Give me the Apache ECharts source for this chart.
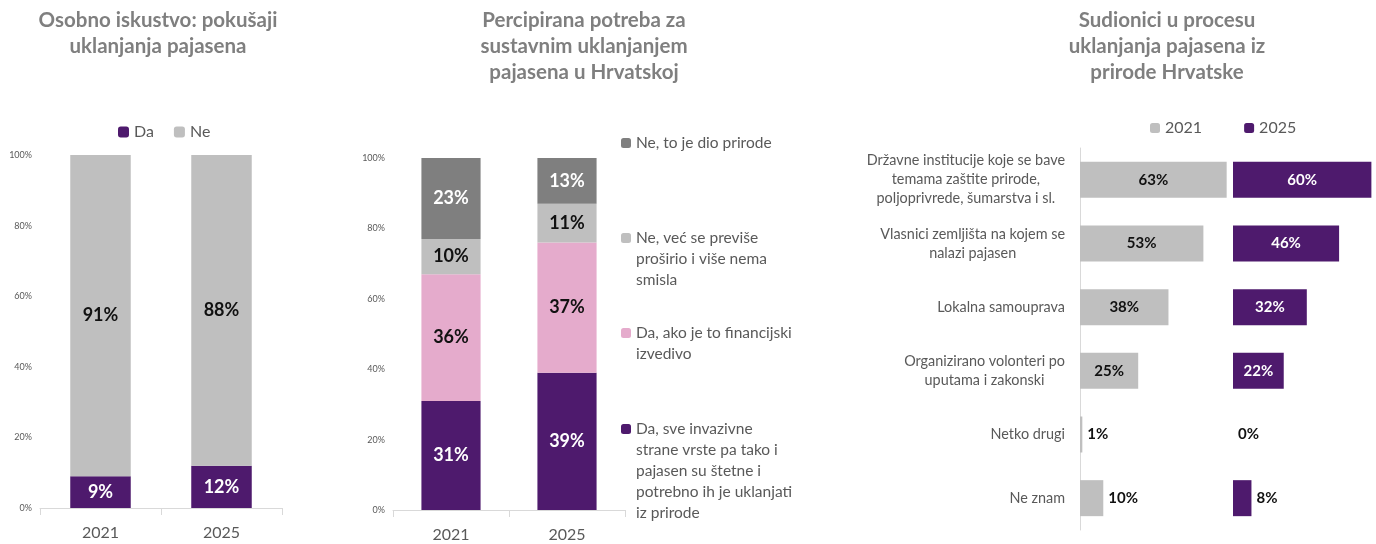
<!DOCTYPE html>
<html><head><meta charset="utf-8">
<script src="https://cdn.jsdelivr.net/npm/echarts@6/dist/echarts.min.js"></script>
<style>html,body{margin:0;padding:0;background:#fff}#c{width:1376px;height:544px}</style>
</head><body><div id="c"></div>
<script>
// ---------- data ----------
const years = ['2021', '2025'];
const p1Names = ['Da', 'Ne'];
const p1Da = [9, 12];
const p1Ne = [91, 88];

const p2Names = [
  'Da, sve invazivne\nstrane vrste pa tako i\npajasen su štetne i\npotrebno ih je uklanjati\niz prirode',
  'Da, ako je to financijski\nizvedivo',
  'Ne, već se previše\nproširio i više nema\nsmisla',
  'Ne, to je dio prirode'
];
const p2DaSve = [31, 39];
const p2DaFin = [36, 37];
const p2NeProsirio = [10, 11];
const p2NeDio = [23, 13];

const p3Categories = [
  'Državne institucije koje se bave\ntemama zaštite prirode,\npoljoprivrede, šumarstva i sl.',
  'Vlasnici zemljišta na kojem se\nnalazi pajasen',
  'Lokalna samouprava',
  'Organizirano volonteri po\nuputama i zakonski',
  'Netko drugi',
  'Ne znam'
];
const p3Series = ['2021', '2025'];
const p3v2021 = [63, 53, 38, 25, 1, 10];
const p3v2025 = [60, 46, 32, 22, 0, 8];

const titles = [
  'Osobno iskustvo: pokušaji\nuklanjanja pajasena',
  'Percipirana potreba za\nsustavnim uklanjanjem\npajasena u Hrvatskoj',
  'Sudionici u procesu\nuklanjanja pajasena iz\nprirode Hrvatske'
];

// ---------- style ----------
const FONT = 'Lato, "Open Sans", sans-serif';
const PURPLE = '#4e1a6d';
const PINK = '#e5abcc';
const LGRAY = '#bfbfbf';
const DGRAY = '#7f7f7f';
const TXT = '#595959';
const AXIS = '#d9d9d9';

const chart = echarts.init(document.getElementById('c'));

function valueAxis(gridIndex) {
  return {
    type: 'value', gridIndex, min: 0, max: 100, interval: 20,
    axisLabel: { formatter: '{value}%', fontSize: 9, color: TXT, fontFamily: FONT, margin: 8 },
    splitLine: { show: false }, axisLine: { show: false }, axisTick: { show: false }
  };
}
function catAxis(gridIndex) {
  return {
    type: 'category', gridIndex, data: years,
    axisLine: { lineStyle: { color: AXIS } },
    axisTick: { show: true, length: 7, lineStyle: { color: AXIS } },
    axisLabel: { fontSize: 16, color: TXT, fontFamily: FONT, margin: 17 }
  };
}
function stackBar(name, data, color, labelColor, xi, yi, stack, bw) {
  return {
    type: 'bar', name, data, stack, xAxisIndex: xi, yAxisIndex: yi,
    barWidth: bw, itemStyle: { color },
    label: { show: true, position: 'inside', formatter: '{c}%', color: labelColor,
      fontSize: 18, fontWeight: 'bold', fontFamily: FONT }
  };
}
function p3Data(values, insideColor) {
  return values.map(v => v < 15
    ? { value: v, label: { position: 'right', color: '#111' } }
    : { value: v, label: { color: insideColor } });
}

// legend item whose icon sits beside the first text line
const LH = 21;
function p2Legend(name, firstLineY) {
  const n = name.split('\n').length;
  return {
    data: [name], left: 621, top: firstLineY - (2 * n - 1) * LH / 2, padding: 0, orient: 'vertical',
    itemWidth: 10, itemHeight: 10, itemGap: 0, itemTextGap: 5, selectedMode: false,
    formatter: nm => '\n'.repeat(n - 1) + nm,
    textStyle: { fontSize: 15.5, color: TXT, fontFamily: FONT, lineHeight: LH }
  };
}

const option = {
  backgroundColor: '#fff',
  animation: false,
  title: [
    { text: titles[0], left: 158, top: 7 },
    { text: titles[1], left: 584, top: 7 },
    { text: titles[2], left: 1167, top: 7 }
  ].map(t => Object.assign(t, { textAlign: 'center', padding: 0,
    textStyle: { fontSize: 20.5, fontWeight: 'bold', color: DGRAY, fontFamily: FONT, lineHeight: 26 } })),
  legend: [
    { data: p1Names, left: 118, top: 124, padding: 0, itemWidth: 11, itemHeight: 11, itemGap: 20,
      itemTextGap: 6, selectedMode: false, textStyle: { fontSize: 16, color: TXT, fontFamily: FONT } },
    p2Legend(p2Names[3], 143),
    p2Legend(p2Names[2], 238),
    p2Legend(p2Names[1], 333),
    p2Legend(p2Names[0], 429),
    { data: p3Series, left: 1150, top: 120, padding: 0, itemWidth: 10, itemHeight: 10, itemGap: 42,
      itemTextGap: 5, selectedMode: false, textStyle: { fontSize: 16, color: TXT, fontFamily: FONT } }
  ],
  grid: [
    { left: 40, top: 155, width: 242, height: 353 },
    { left: 393, top: 158, width: 232, height: 352 },
    { left: 1080, top: 148, width: 149, height: 382 },
    { left: 1233, top: 148, width: 144, height: 382 }
  ],
  xAxis: [
    catAxis(0), catAxis(1),
    { type: 'value', gridIndex: 2, min: 0, max: 64, show: false },
    { type: 'value', gridIndex: 3, min: 0, max: 62, show: false }
  ],
  yAxis: [
    valueAxis(0), valueAxis(1),
    { type: 'category', gridIndex: 2, data: p3Categories, inverse: true,
      axisLine: { lineStyle: { color: AXIS } }, axisTick: { show: false },
      axisLabel: { margin: 15, color: TXT, fontSize: 14.4, fontFamily: FONT, lineHeight: 19,
        formatter: v => v.split('\n').map(l => '{c|' + l + '}').join('\n'),
        rich: { c: { align: 'center', fontSize: 14.4, color: TXT, fontFamily: FONT, lineHeight: 19 } } } },
    { type: 'category', gridIndex: 3, data: p3Categories, inverse: true, show: false }
  ],
  series: [
    stackBar(p1Names[0], p1Da, PURPLE, '#fff', 0, 0, 'a', '50%'),
    stackBar(p1Names[1], p1Ne, LGRAY, '#111', 0, 0, 'a', '50%'),
    stackBar(p2Names[0], p2DaSve, PURPLE, '#fff', 1, 1, 'b', '51%'),
    stackBar(p2Names[1], p2DaFin, PINK, '#111', 1, 1, 'b', '51%'),
    stackBar(p2Names[2], p2NeProsirio, LGRAY, '#111', 1, 1, 'b', '51%'),
    stackBar(p2Names[3], p2NeDio, DGRAY, '#fff', 1, 1, 'b', '51%'),
    { type: 'bar', name: p3Series[0], data: p3Data(p3v2021, '#111'), xAxisIndex: 2, yAxisIndex: 2,
      barWidth: 36, itemStyle: { color: LGRAY },
      label: { show: true, position: 'inside', formatter: '{c}%', fontSize: 15, fontWeight: 'bold', fontFamily: FONT } },
    { type: 'bar', name: p3Series[1], data: p3Data(p3v2025, '#fff'), xAxisIndex: 3, yAxisIndex: 3,
      barWidth: 36, itemStyle: { color: PURPLE },
      label: { show: true, position: 'inside', formatter: '{c}%', fontSize: 15, fontWeight: 'bold', fontFamily: FONT } }
  ]
};
chart.setOption(option);
</script>
</body></html>
